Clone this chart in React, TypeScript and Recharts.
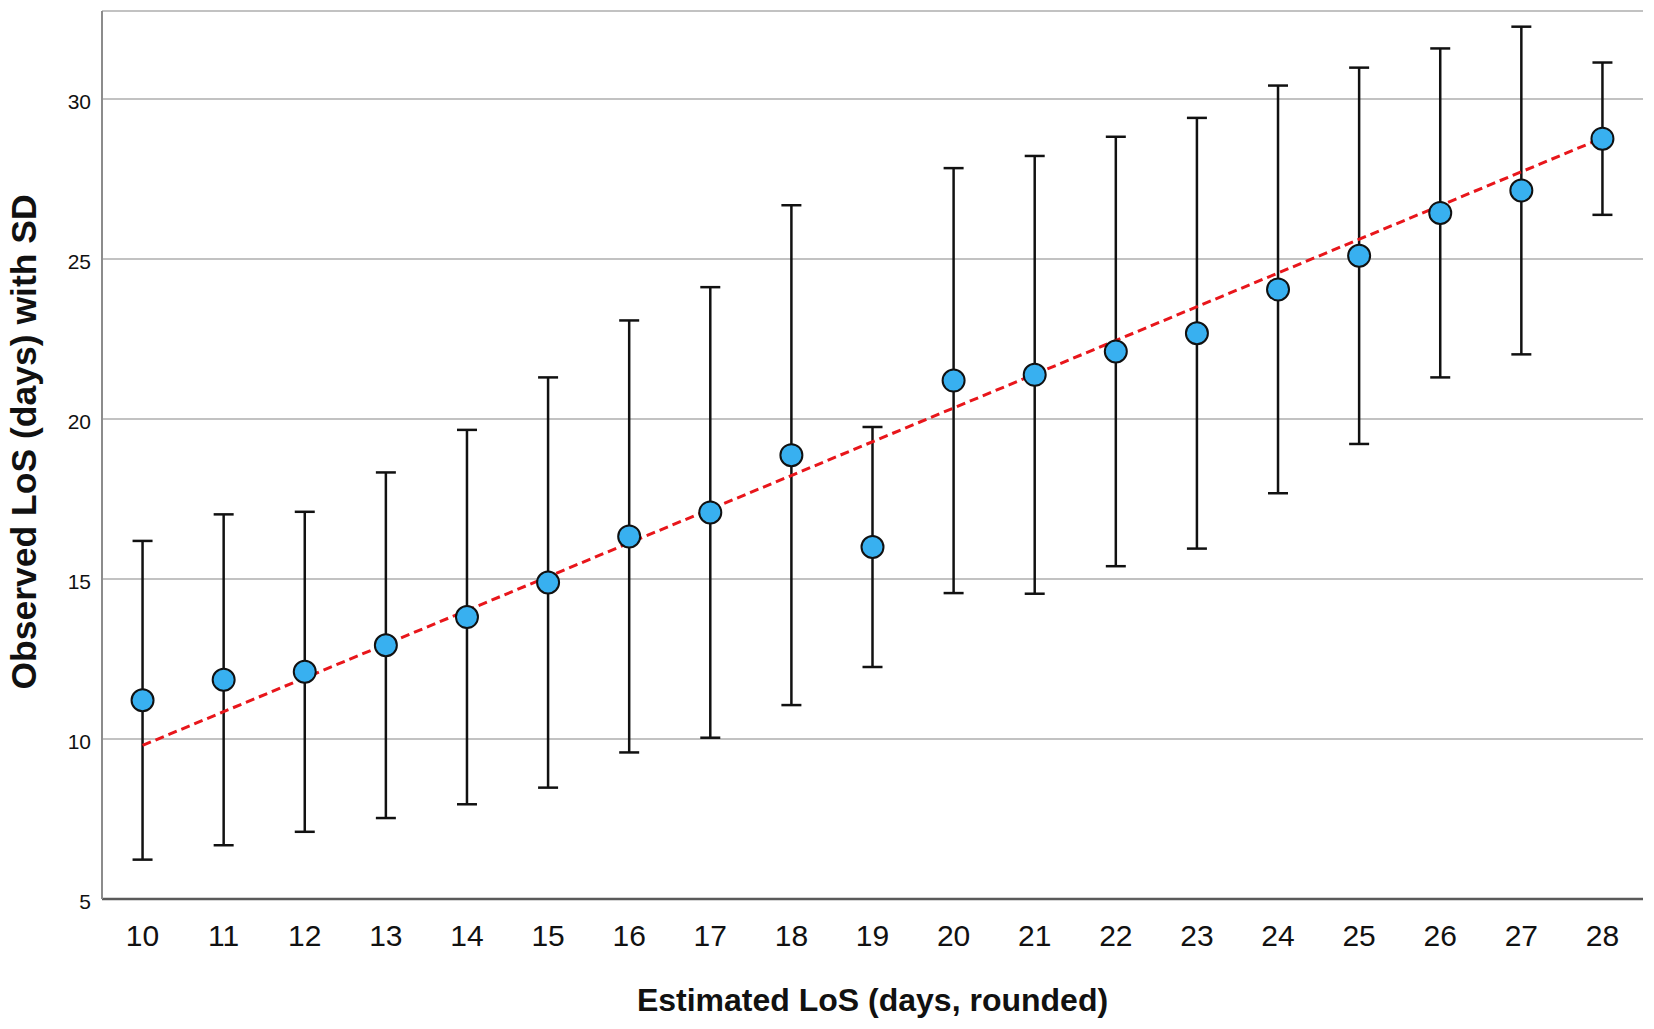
import React from 'react';
import {
  ComposedChart,
  Scatter,
  Line,
  XAxis,
  YAxis,
  CartesianGrid,
  ErrorBar,
} from 'recharts';

const estimatedLoS = [10, 11, 12, 13, 14, 15, 16, 17, 18, 19, 20, 21, 22, 23, 24, 25, 26, 27, 28];
const observedMean = [11.21, 11.85, 12.1, 12.93, 13.81, 14.89, 16.33, 17.08, 18.87, 16.0, 21.2, 21.38, 22.11, 22.68, 24.05, 25.1, 26.44, 27.14, 28.76];
const observedSD = [4.98, 5.17, 5.0, 5.4, 5.85, 6.41, 6.75, 7.04, 7.81, 3.75, 6.64, 6.84, 6.71, 6.73, 6.37, 5.88, 5.14, 5.12, 2.38];
const fitX = [10, 28];
const fitY = [9.8, 28.78];
const xTicks = [10, 11, 12, 13, 14, 15, 16, 17, 18, 19, 20, 21, 22, 23, 24, 25, 26, 27, 28];
const yTicks = [5, 10, 15, 20, 25, 30];

const pointData = estimatedLoS.map((x, i) => ({ x, mean: observedMean[i], sd: observedSD[i] }));
const fitData = fitX.map((x, i) => ({ x, fit: fitY[i] }));

const FONT = '"Liberation Sans", Arial, Helvetica, sans-serif';

const Dot = (props: any) => {
  const { cx, cy } = props;
  if (cx == null || cy == null) return null;
  return <circle cx={cx} cy={cy} r={11} fill="#38b0f0" stroke="#111" strokeWidth={2} />;
};

const YTick = (props: any) => {
  const { x, y, payload } = props;
  return (
    <text x={x} y={y + 2} textAnchor="end" dominantBaseline="central" fontSize={21} fill="#111" fontFamily={FONT}>
      {payload.value}
    </text>
  );
};

const XTick = (props: any) => {
  const { x, y, payload } = props;
  return (
    <text x={x} y={y + 22} textAnchor="middle" dominantBaseline="central" fontSize={30} fill="#111" fontFamily={FONT}>
      {payload.value}
    </text>
  );
};

const XTitle = (props: any) => {
  const vb = props.viewBox;
  return (
    <text x={vb.x + vb.width / 2} y={vb.y + 101} textAnchor="middle" dominantBaseline="central" fontSize={32} fontWeight="bold" fill="#111" fontFamily={FONT}>
      Estimated LoS (days, rounded)
    </text>
  );
};

const YTitle = (props: any) => {
  const vb = props.viewBox;
  const cx = 24;
  const cy = vb.y + vb.height / 2 - 13;
  return (
    <text x={cx} y={cy} transform={`rotate(-90, ${cx}, ${cy})`} textAnchor="middle" dominantBaseline="central" fontSize={35.5} fontWeight="bold" fill="#111" fontFamily={FONT}>
      Observed LoS (days) with SD
    </text>
  );
};

export default function App() {
  return (
    <div style={{ position: 'absolute', left: 0, top: 0, width: 1654, height: 1029, background: '#fff' }}>
      <ComposedChart width={1654} height={1029} margin={{ top: 11, right: 11, left: 42, bottom: 30 }}>
        <CartesianGrid vertical={false} stroke="#c2c2c2" strokeWidth={2} />
        <XAxis
          type="number"
          dataKey="x"
          domain={[9.5, 28.5]}
          ticks={xTicks}
          allowDataOverflow
          height={100}
          tickLine={false}
          tickSize={0}
          tickMargin={14}
          axisLine={{ stroke: '#5a5a5a', strokeWidth: 2.5 }}
          tick={<XTick />}
          label={<XTitle />}
        />
        <YAxis
          type="number"
          domain={[5, 32.75]}
          ticks={yTicks}
          allowDataOverflow
          width={60}
          tickLine={false}
          tickSize={0}
          tickMargin={11}
          axisLine={{ stroke: '#8c8c8c', strokeWidth: 2 }}
          tick={<YTick />}
          label={<YTitle />}
        />
        <Scatter data={pointData} dataKey="mean" shape={<Dot />} isAnimationActive={false}>
          <ErrorBar dataKey="sd" direction="y" width={10} stroke="#111" strokeWidth={2.5} isAnimationActive={false} />
        </Scatter>
        <Line
          data={fitData}
          dataKey="fit"
          type="linear"
          stroke="#e8161b"
          strokeWidth={3}
          strokeDasharray="9 5"
          dot={false}
          activeDot={false}
          isAnimationActive={false}
        />
      </ComposedChart>
    </div>
  );
}
